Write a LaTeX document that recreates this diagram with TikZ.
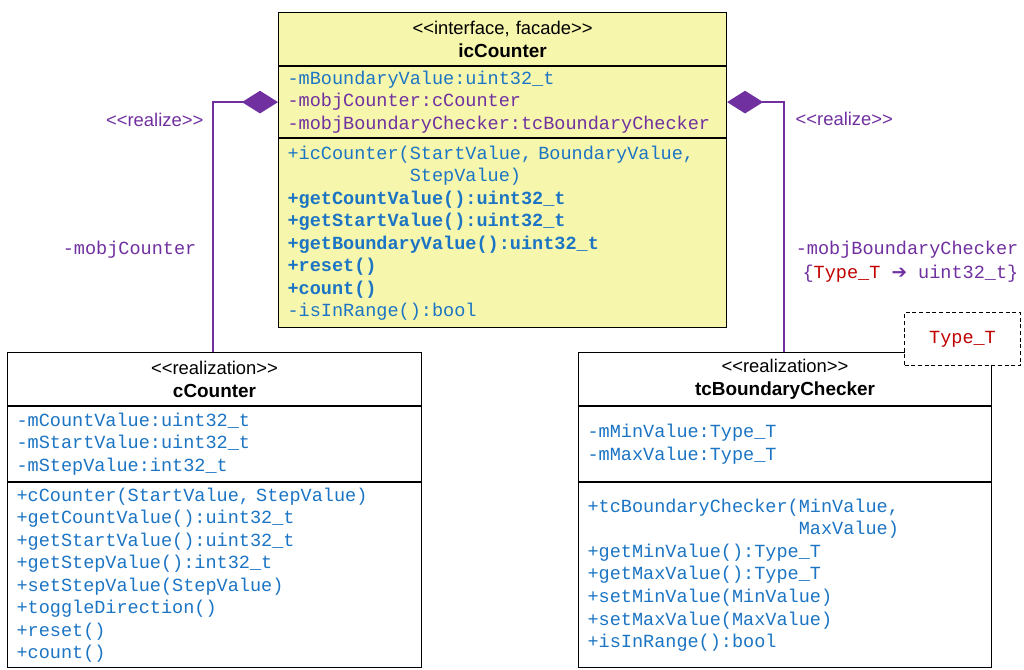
\documentclass[tikz,border=0pt]{standalone}
\usepackage{fontspec}
\setmainfont{Liberation Sans}
\setmonofont{Liberation Mono}
\newfontfamily\ArrowFont{DejaVu Sans}
\usetikzlibrary{arrows.meta}
\usetikzlibrary{positioning}
\definecolor{UmlBlue}{HTML}{1C75C4}
\definecolor{UmlPurple}{HTML}{7030A0}
\definecolor{UmlRed}{HTML}{C00000}
\definecolor{UmlYellow}{HTML}{F6F6AC}
\newcommand{\StereoFont}{\fontsize{13.8}{17.25}\selectfont}
\newcommand{\MemberFont}{\ttfamily\fontsize{13.9}{16.9}\selectfont}
\newcommand{\ClassName}[1]{{\fontsize{14.2}{17.25}\selectfont\bfseries #1}}
\newcommand{\Stereo}[1]{<\kern0pt<#1>\kern0pt>}

\begin{document}
\begin{tikzpicture}[x=0.75pt, y=-0.75pt, >=Latex,
	compartment/.style={draw=black, line width=0.8pt, anchor=north west, inner xsep=6.75pt, inner ysep=0pt, align=left, font=\MemberFont, text=\MemberColor},
	header/.style={compartment, align=center, font=\StereoFont, text=black, minimum height=39.75pt},
	aggregation/.style={draw=\LinkColor, line width=1.5pt, -{Diamond[length=27pt,width=17pt]}},
	rolelabel/.style={text=\LinkColor, font=\MemberFont},
	stereolabel/.style={text=\LinkColor, font=\StereoFont}]
	\def\MemberColor{UmlBlue}
	\def\LinkColor{UmlPurple}
	\def\ParamColor{UmlRed}
	%%%%%%%%%%%%%%%%%%%%%%%%%%%%%%%%%%%%%%%%%%%%%%%%%%%%%%%%%%
	\fill[white] (0,0) rectangle (1024,670);
	\useasboundingbox (0,0) rectangle (1024,670);
	
	% interface class
	\node[header, fill=UmlYellow, text width=322.5pt] (icHead) at (278,12) {\Stereo{interface, facade}\\ \ClassName{icCounter}};
	\node[compartment, fill=UmlYellow, text width=322.5pt, minimum height=53.25pt] (icAttr) at (icHead.south west) {-mBoundaryValue:uint32\_t\\ \textcolor{\LinkColor}{-mobjCounter:cCounter}\\ \textcolor{\LinkColor}{-mobjBoundaryChecker:tcBoundaryChecker}};
	\node[compartment, fill=UmlYellow, text width=322.5pt, minimum height=141.75pt] (icOps) at (icAttr.south west) {+icCounter(StartValue, BoundaryValue,\\ \hphantom{+icCounter(}StepValue)\\ \textbf{+getCountValue():uint32\_t}\\ \textbf{+getStartValue():uint32\_t}\\ \textbf{+getBoundaryValue():uint32\_t}\\ \textbf{+reset()}\\ \textbf{+count()}\\ -isInRange():bool};
	
	% counter class
	\node[header, text width=297pt] (ccHead) at (7,352) {\Stereo{realization}\\ \ClassName{cCounter}};
	\node[compartment, text width=297pt, minimum height=56.25pt] (ccAttr) at (ccHead.south west) {-mCountValue:uint32\_t\\ -mStartValue:uint32\_t\\ -mStepValue:int32\_t};
	\node[compartment, text width=297pt, minimum height=138.75pt] (ccOps) at (ccAttr.south west) {+cCounter(StartValue, StepValue)\\ +getCountValue():uint32\_t\\ +getStartValue():uint32\_t\\ +getStepValue():int32\_t\\ +setStepValue(StepValue)\\ +toggleDirection()\\ +reset()\\ +count()};
	
	% boundary checker template class
	\node[header, text width=296.25pt] (tcHead) at (578,352) {\Stereo{realization}\\ \ClassName{tcBoundaryChecker}};
	\node[compartment, text width=296.25pt, minimum height=56.25pt] (tcAttr) at (tcHead.south west) {-mMinValue:Type\_T\\ -mMaxValue:Type\_T};
	\node[compartment, text width=296.25pt, minimum height=138.75pt] (tcOps) at (tcAttr.south west) {+tcBoundaryChecker(MinValue,\\ \hphantom{+tcBoundaryChecker(}MaxValue)\\ +getMinValue():Type\_T\\ +getMaxValue():Type\_T\\ +setMinValue(MinValue)\\ +setMaxValue(MaxValue)\\ +isInRange():bool};
	
	% template parameter
	\node[draw=black, line width=0.75pt, dash pattern=on 3pt off 2pt, fill=white, minimum width=87pt, minimum height=39.75pt, font=\MemberFont, text=\ParamColor] (typeParam) at (962.5,339) {Type\_T};
	
	% aggregations
	\coordinate (leftBend) at (213,101);
	\coordinate (rightBend) at (784,102);
	\draw[aggregation] (ccHead.north -| leftBend) |- (icAttr.west);
	\draw[aggregation] (tcHead.north -| rightBend) |- (icAttr.east);
	
	% link labels
	\node[stereolabel, anchor=east] (realizeLeft) at (208,120) {\Stereo{realize}};
	\node[rolelabel, anchor=east] (roleLeft) at (201,250) {-mobjCounter};
	\node[stereolabel, anchor=west] (realizeRight) at (791,119) {\Stereo{realize}};
	\node[rolelabel, anchor=east, align=right, font=\ttfamily\fontsize{13.9}{18}\selectfont] (roleRight) at (1023,262) {-mobjBoundaryChecker\\ \{\textcolor{\ParamColor}{Type\_T} {\ArrowFont ➔} uint32\_t\}};
	
\end{tikzpicture}
\end{document}
